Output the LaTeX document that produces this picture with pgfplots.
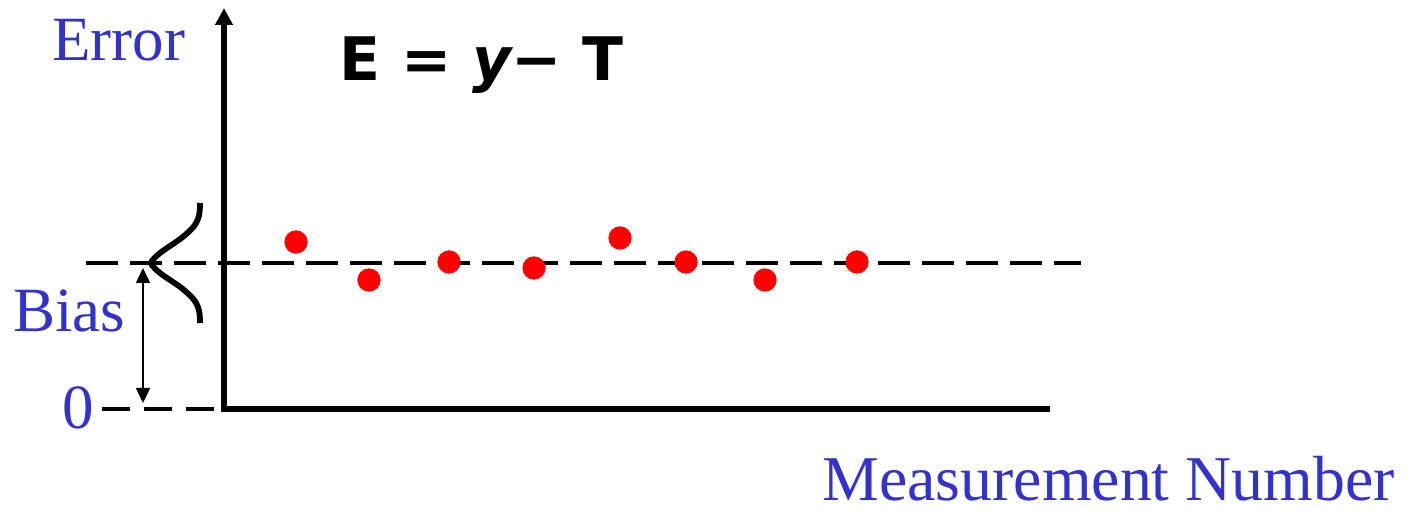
\documentclass[border=0pt]{standalone}
\usepackage{fontspec}
\setmainfont{Liberation Serif}
\newfontfamily\eqfont{DejaVu Sans}
\usepackage{pgfplots}
\pgfplotsset{compat=1.18}
\usetikzlibrary{arrows.meta}
\definecolor{labelblue}{RGB}{51,51,204}

\begin{document}
\begin{tikzpicture}
\begin{axis}[
  scale only axis,
  width=707pt, height=254.5pt,
  xmin=-224, xmax=1190,
  ymin=-100, ymax=409,
  hide axis,
  clip=false,
]
% axes drawn by hand: vertical error axis with arrow, horizontal measurement axis
\addplot[line width=3pt, -{Triangle[width=8.5pt,length=8.5pt]}] coordinates {(0,-3) (0,401)};
\addplot[line width=3pt] coordinates {(-3,0) (826,0)};

% bias level
\addplot[line width=2.25pt, dash pattern=on 16pt off 6pt] coordinates {(-138,146) (857,146)};
% zero level
\addplot[line width=2.25pt, dash pattern=on 14pt off 7pt] coordinates {(-122,0) (-7,0)};

% bias arrow
\addplot[line width=0.8pt, {Triangle[width=7pt,length=7.5pt]}-{Triangle[width=7pt,length=7.5pt]}]
  coordinates {(-81,6) (-81,141)};

% spread of the measurements around the bias
\addplot[line width=2.9pt, smooth, tension=0.55, no marks, line cap=butt] coordinates {
  (-24,206) (-24.3,198) (-25.4,192) (-27.9,186) (-31.5,181) (-36.6,176) (-42.5,171)
  (-49.5,166) (-57,161) (-64,156) (-69.5,151) (-73,146)
  (-69.5,141) (-64,136) (-57,131) (-49.5,126) (-42.5,121) (-36.6,116)
  (-31.5,111) (-27.9,106) (-25.4,100) (-24.3,94) (-24,86)
};

% measured errors
\addplot[only marks, mark=*, mark size=5.6pt, color=red, mark options={draw=red, fill=red}]
  coordinates {(72,167) (145,129) (225,147) (310,141) (396,171) (462,147) (541,129) (633,147)};

% labels
\node[anchor=base west, text=labelblue, inner sep=0pt, font=\fontsize{31.5}{36}\selectfont] at (axis cs:-172,348) {Error};
\node[anchor=base west, text=labelblue, inner sep=0pt, font=\fontsize{31.5}{36}\selectfont] at (axis cs:-211,77) {Bias};
\node[anchor=base west, text=labelblue, inner sep=0pt, font=\fontsize{31.5}{36}\selectfont] at (axis cs:-162,-20) {0};
\node[anchor=base west, text=labelblue, inner sep=0pt, text depth=0pt, font=\fontsize{31.9}{36}\selectfont] at (axis cs:598,-91) {Measurement Number};
\node[anchor=base west, inner sep=0pt, font=\eqfont\bfseries\fontsize{30}{36}\selectfont] at (axis cs:115,328) {E = {\itshape y}− T};
\end{axis}
\pgfresetboundingbox
\path (current axis.south west) rectangle (current axis.north east);
\end{tikzpicture}
\end{document}
